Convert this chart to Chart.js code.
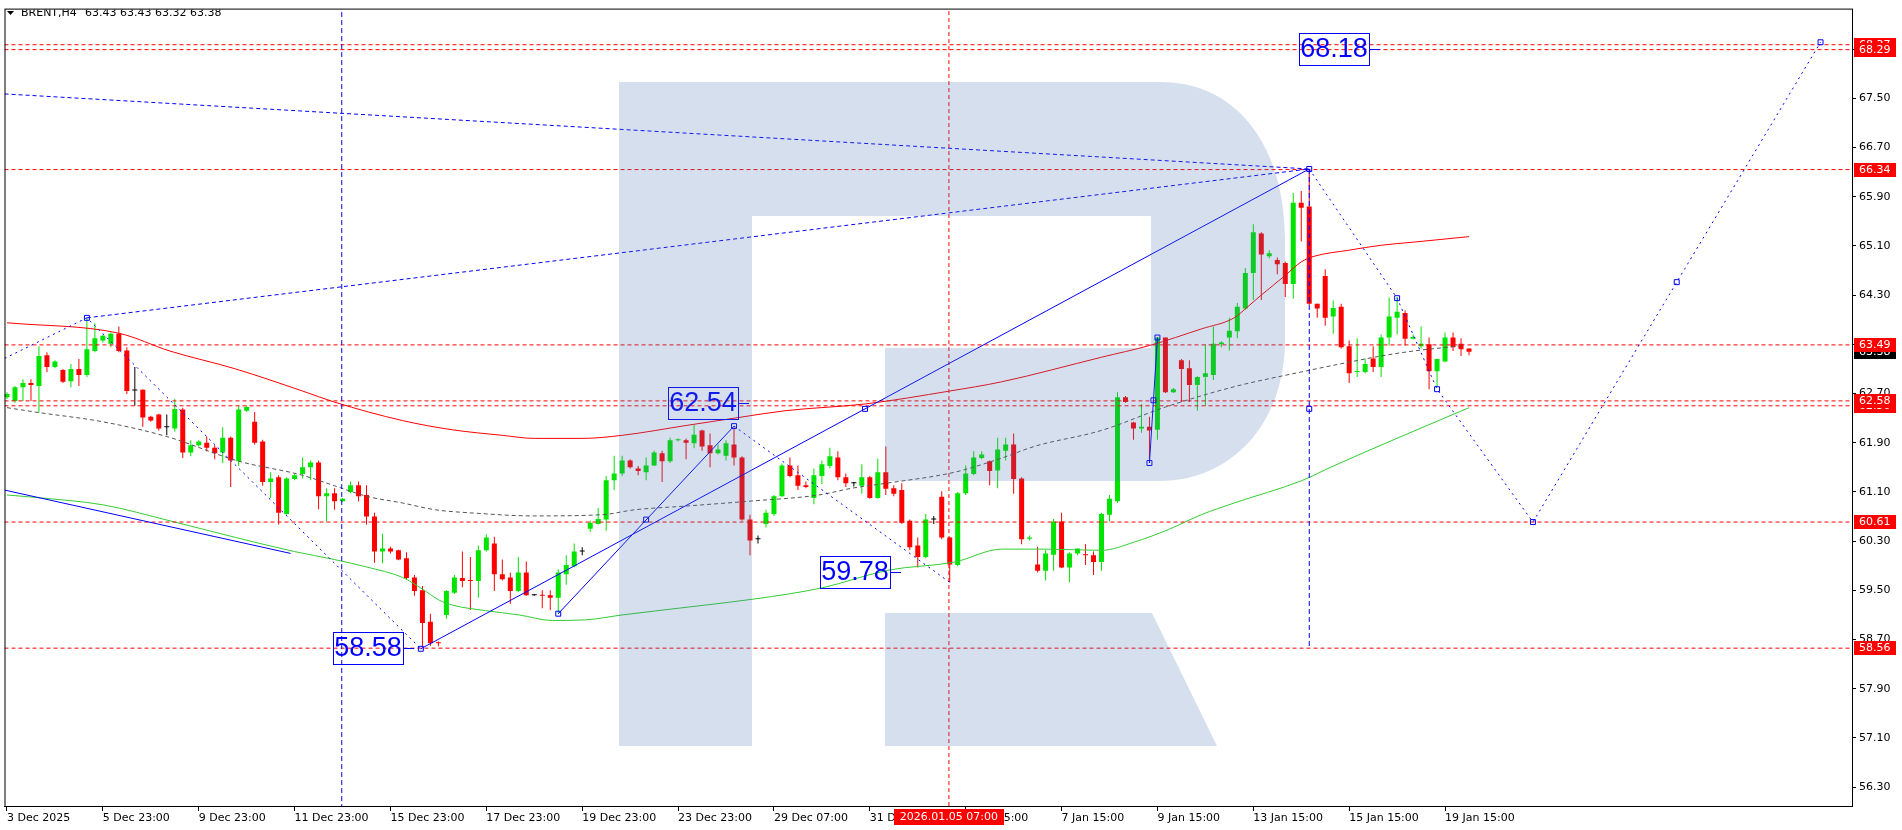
<!DOCTYPE html>
<html>
<head>
<meta charset="utf-8">
<title>BRENT,H4</title>
<script src="https://cdn.jsdelivr.net/npm/chart.js@4.4.1/dist/chart.umd.min.js"></script>
<style>
  html, body { margin: 0; padding: 0; background: #fff; }
  #chartBox { width: 1902px; height: 830px; }
</style>
</head>
<body>
<div id="chartBox"><canvas id="brentChart" width="1902" height="830"></canvas></div>
<script>
(function () {
  "use strict";

  const SYMBOL = "BRENT,H4";
  const LAST_QUOTE = "63.43 63.43 63.32 63.38";

  // H4 candles, bar index 0 = 3 Dec 2025
  const candleOpen = [
    62.64, 62.58, 62.80, 62.87, 62.82, 63.32, 63.13, 63.08, 62.90, 63.10,
    63.00, 63.39, 63.56, 63.51, 63.67, 63.40, 62.75, 62.76, 62.32, 62.36,
    62.15, 62.13, 62.44, 61.74, 61.86, 61.90, 61.82, 61.74, 61.98, 61.60,
    62.42, 62.24, 61.92, 61.26, 61.34, 60.74, 61.31, 61.39, 61.50, 61.58,
    61.03, 61.08, 60.95, 61.10, 61.21, 61.05, 60.70, 60.13, 60.18, 60.15,
    60.02, 59.71, 59.50, 58.99, 58.65, 59.10, 59.46, 59.70, 59.67, 59.65,
    60.15, 60.26, 59.76, 59.71, 59.49, 59.79, 59.42, 59.42, 59.42, 59.38,
    59.76, 59.89, 60.13, 60.50, 60.58, 60.65, 61.29, 61.40, 61.61, 61.48,
    61.42, 61.53, 61.73, 61.60, 61.94, 61.94, 61.89, 62.10, 61.86, 61.73,
    61.69, 61.87, 61.66, 60.65, 60.33, 60.58, 60.74, 61.03, 61.53, 61.37,
    61.21, 61.00, 61.36, 61.52, 61.66, 61.34, 61.24, 61.20, 61.34, 61.00,
    61.42, 61.16, 61.13, 60.63, 60.23, 60.04, 60.65, 61.02, 60.36, 59.91,
    61.08, 61.39, 61.65, 61.60, 61.45, 61.77, 61.87, 61.32, 60.34, 59.92,
    59.82, 60.08, 60.62, 59.87, 60.10, 60.08, 60.07, 59.96, 60.73, 60.95,
    62.64, 62.23, 62.13, 62.16, 62.11, 63.61, 62.72, 63.24, 63.11, 62.84,
    62.97, 63.00, 63.50, 63.61, 63.71, 64.08, 64.66, 65.30, 64.93, 64.87,
    64.82, 64.48, 65.80, 65.74, 64.16, 64.61, 63.95, 64.11, 63.47, 63.05,
    63.05, 63.27, 63.13, 63.61, 63.93, 64.01, 63.59, 63.47, 63.50, 63.06,
    63.22, 63.61, 63.51, 63.43
  ];
  const candleHigh = [
    62.72, 62.82, 62.93, 62.93, 63.47, 63.37, 63.24, 63.10, 63.18, 63.26,
    63.93, 63.84, 63.66, 63.69, 63.79, 63.45, 63.13, 62.77, 62.34, 62.37,
    62.36, 62.61, 62.47, 61.94, 61.94, 62.00, 61.86, 62.15, 62.00, 62.50,
    62.50, 62.40, 61.95, 61.42, 61.37, 61.34, 61.39, 61.66, 61.61, 61.61,
    61.16, 61.16, 61.00, 61.27, 61.27, 61.21, 60.76, 60.42, 60.21, 60.16,
    60.12, 59.75, 59.57, 59.12, 58.67, 59.50, 59.75, 60.13, 60.04, 60.23,
    60.41, 60.37, 60.00, 59.79, 60.04, 59.97, 59.44, 59.50, 59.50, 59.84,
    60.07, 60.26, 60.20, 60.63, 60.84, 61.36, 61.69, 61.69, 61.63, 61.52,
    61.66, 61.77, 61.77, 61.98, 61.97, 61.97, 62.19, 62.11, 62.05, 61.87,
    61.94, 62.15, 61.68, 60.73, 60.39, 60.81, 61.05, 61.56, 61.66, 61.53,
    61.27, 61.48, 61.61, 61.82, 61.76, 61.40, 61.26, 61.55, 61.36, 61.64,
    61.84, 61.21, 61.24, 60.65, 60.36, 60.74, 60.71, 61.11, 60.37, 61.10,
    61.53, 61.76, 61.76, 61.61, 61.98, 61.98, 62.05, 61.34, 60.39, 60.21,
    60.16, 60.66, 60.76, 60.12, 60.18, 60.25, 60.13, 60.76, 61.05, 62.72,
    62.66, 62.24, 62.53, 62.32, 63.62, 63.61, 62.79, 63.26, 63.24, 62.98,
    63.50, 63.79, 63.55, 63.93, 64.17, 64.74, 65.45, 65.32, 65.03, 64.91,
    64.84, 65.96, 65.99, 66.34, 64.16, 64.72, 64.21, 64.16, 63.56, 63.60,
    63.27, 63.47, 63.66, 64.26, 64.27, 64.05, 63.66, 63.79, 63.61, 63.27,
    63.69, 63.69, 63.60, 63.43
  ];
  const candleLow = [
    62.61, 62.55, 62.58, 62.58, 62.39, 63.05, 63.11, 62.87, 62.80, 62.82,
    62.97, 63.37, 63.53, 63.45, 63.37, 62.69, 62.50, 62.16, 62.24, 62.10,
    62.02, 62.08, 61.65, 61.68, 61.84, 61.76, 61.63, 61.57, 61.18, 61.52,
    62.40, 61.87, 61.20, 61.00, 60.57, 60.73, 61.29, 61.32, 61.29, 60.82,
    60.62, 60.81, 60.94, 61.08, 60.95, 60.57, 59.95, 59.94, 60.10, 59.99,
    59.68, 59.41, 58.57, 58.60, 58.59, 59.04, 59.44, 59.55, 59.18, 59.38,
    60.13, 59.49, 59.66, 59.28, 59.47, 59.41, 59.41, 59.21, 59.18, 59.12,
    59.59, 59.87, 60.07, 60.45, 60.57, 60.47, 61.13, 61.36, 61.48, 61.37,
    61.29, 61.52, 61.26, 61.57, 61.92, 61.63, 61.81, 61.77, 61.50, 61.71,
    61.61, 61.53, 60.63, 60.07, 60.26, 60.52, 60.71, 61.02, 61.34, 61.13,
    61.16, 60.90, 61.23, 61.48, 61.29, 61.18, 61.19, 61.07, 60.99, 60.99,
    61.05, 61.03, 60.58, 60.16, 59.87, 60.02, 60.58, 60.33, 59.63, 59.89,
    61.05, 61.37, 61.63, 61.21, 61.16, 61.61, 61.07, 60.25, 60.31, 59.79,
    59.66, 59.82, 59.86, 59.63, 60.07, 59.91, 59.75, 59.82, 60.62, 60.92,
    62.55, 61.95, 62.06, 61.57, 61.95, 62.71, 62.71, 62.56, 62.56, 62.42,
    62.50, 62.92, 63.45, 63.40, 63.60, 64.06, 64.22, 64.22, 64.90, 64.64,
    64.27, 64.24, 65.17, 64.14, 63.93, 63.80, 63.67, 63.43, 62.87, 62.97,
    63.03, 63.05, 62.97, 63.48, 63.66, 63.48, 63.58, 63.43, 62.77, 62.80,
    63.21, 63.39, 63.31, 63.32
  ];
  const candleClose = [
    62.69, 62.80, 62.87, 62.84, 63.31, 63.13, 63.22, 62.89, 63.10, 63.00,
    63.42, 63.60, 63.64, 63.67, 63.39, 62.74, 62.75, 62.31, 62.26, 62.13,
    62.15, 62.45, 61.74, 61.86, 61.92, 61.82, 61.73, 61.98, 61.61, 62.44,
    62.48, 61.90, 61.26, 61.32, 60.76, 61.32, 61.37, 61.50, 61.58, 61.03,
    61.08, 60.95, 60.99, 61.21, 61.03, 60.70, 60.13, 60.18, 60.13, 60.00,
    59.70, 59.49, 58.97, 58.64, 58.64, 59.49, 59.71, 59.65, 59.65, 60.15,
    60.36, 59.76, 59.68, 59.49, 59.79, 59.42, 59.42, 59.41, 59.38, 59.79,
    59.91, 60.13, 60.13, 60.60, 60.66, 61.29, 61.40, 61.61, 61.50, 61.44,
    61.53, 61.74, 61.60, 61.94, 61.95, 61.90, 62.03, 61.84, 61.73, 61.79,
    61.89, 61.66, 60.65, 60.31, 60.33, 60.76, 61.03, 61.53, 61.36, 61.20,
    61.18, 61.37, 61.55, 61.68, 61.34, 61.24, 61.24, 61.34, 61.00, 61.42,
    61.15, 61.07, 60.60, 60.20, 60.04, 60.65, 60.65, 60.36, 59.92, 61.08,
    61.40, 61.66, 61.71, 61.44, 61.79, 61.87, 61.31, 60.33, 60.36, 59.82,
    60.10, 60.62, 59.87, 60.10, 60.18, 60.07, 59.96, 60.74, 60.99, 62.64,
    62.56, 62.13, 62.16, 62.10, 63.61, 62.72, 62.77, 63.10, 62.84, 62.97,
    63.03, 63.51, 63.53, 63.72, 64.11, 64.66, 65.32, 64.96, 64.98, 64.80,
    64.48, 65.80, 65.72, 64.16, 64.08, 63.93, 64.09, 63.45, 63.03, 63.06,
    63.18, 63.13, 63.61, 63.95, 64.03, 63.59, 63.62, 63.51, 63.06, 63.26,
    63.61, 63.45, 63.42, 63.38
  ];

  const timeTickIndex = [0, 12, 24, 36, 48, 60, 72, 84, 96, 108, 120, 132, 144, 156, 168, 180];
  const timeTickLabels = [
    "3 Dec 2025", "5 Dec 23:00", "9 Dec 23:00", "11 Dec 23:00", "15 Dec 23:00", "17 Dec 23:00",
    "19 Dec 23:00", "23 Dec 23:00", "29 Dec 07:00", "31 Dec 15:00", "5 Jan 15:00", "7 Jan 15:00",
    "9 Jan 15:00", "13 Jan 15:00", "15 Jan 15:00", "19 Jan 15:00"
  ];
  const priceTicks = [56.30, 57.10, 57.90, 58.70, 59.50, 60.30, 61.10, 61.90, 62.70, 63.50, 64.30, 65.10, 65.90, 66.70, 67.50, 68.30];

  // moving averages, read at a few bars (index, price)
  const maRedIndex = [0, 14, 20.4, 28.6, 37, 41, 49.5, 55.75, 62, 66, 72, 77, 85, 91.6, 97.4, 107.4, 118, 124.5, 137, 143, 149.5, 153.6, 155.3, 157, 160, 162, 163.6, 168, 172, 176, 183];
  const maRed = [63.85, 63.68, 63.39, 63.10, 62.74, 62.56, 62.26, 62.11, 62.02, 61.97, 61.97, 62.02, 62.18, 62.31, 62.42, 62.53, 62.74, 62.89, 63.29, 63.48, 63.75, 63.93, 64.11, 64.30, 64.62, 64.84, 64.93, 65.03, 65.11, 65.16, 65.25];
  const maGrayIndex = [0, 4, 12, 20, 29, 37, 41, 45, 49.5, 53.6, 58, 66, 74.5, 78.6, 85, 93, 101.6, 105.75, 110, 118.6, 124.5, 128.6, 137, 145, 153.6, 162, 168, 172, 176, 182.4];
  const maGray = [62.47, 62.39, 62.24, 62.00, 61.60, 61.37, 61.20, 61.03, 60.92, 60.81, 60.76, 60.71, 60.73, 60.81, 60.87, 60.95, 61.05, 61.16, 61.24, 61.42, 61.65, 61.84, 62.10, 62.48, 62.81, 63.05, 63.21, 63.31, 63.39, 63.48];
  const maGreenIndex = [0, 4.5, 12, 20.4, 28.6, 36, 41, 45, 49.5, 52, 54.1, 55.75, 59.9, 64.1, 68.25, 72.4, 77, 85.4, 93.6, 102, 110.4, 118.6, 124.5, 130, 137, 141, 145.4, 149.5, 153.6, 162, 166, 174.5, 183];
  const maGreen = [61.05, 61.00, 60.89, 60.63, 60.36, 60.13, 60.00, 59.88, 59.71, 59.52, 59.34, 59.26, 59.17, 59.10, 59.01, 59.02, 59.10, 59.23, 59.36, 59.54, 59.83, 59.96, 60.17, 60.17, 60.15, 60.28, 60.49, 60.73, 60.92, 61.28, 61.52, 62.00, 62.47];

  // analyst drawings (index, price)
  const trendUpperIndex = [-0.3, 163];
  const trendUpper = [67.57, 66.35];
  const trendLowerIndex = [10, 163];
  const trendLower = [63.93, 66.35];
  const waveIndex = [-0.3, 10, 51.8];
  const wave = [63.27, 63.93, 58.55];
  const fallIndex = [91, 118];
  const fall = [62.17, 59.63];
  const forecastIndex = [163, 174, 179, 191, 227];
  const forecast = [66.35, 64.25, 62.77, 60.61, 68.41];
  const riseIndex = [51.8, 163];
  const rise = [58.55, 66.35];
  const legIndex = [69, 91];
  const leg = [59.12, 62.17];
  const spikeIndex = [143, 144];
  const spike = [61.57, 63.61];
  const channelIndex = [-0.3, 35.5];
  const channel = [61.13, 60.10];
  const peakDropIndex = [163, 163];
  const peakDrop = [66.35, 58.56];
  const anchorIndex = [10, 51.8, 69, 80, 91, 107.4, 143, 143.5, 144, 163, 163, 174, 179, 191, 209, 227];
  const anchor = [63.93, 58.55, 59.12, 60.65, 62.17, 62.45, 61.57, 62.59, 63.61, 66.35, 62.45, 64.25, 62.77, 60.61, 64.51, 68.41];
  const blueMarkIndex = 41.9;
  const redMarkIndex = 117.9;
  const redMarkLabel = "2026.01.05 07:00";
  const levelPrices = [68.37, 68.29, 66.34, 63.49, 62.50, 62.58, 60.61, 58.56];

  const noteText = ["58.58", "62.54", "59.78", "68.18"];
  const noteIndex = [50.9, 92.9, 111.9, 171.8];
  const notePrice = [58.57, 62.55, 59.79, 68.30];

  const X_MIN = -0.3125;
  const X_MAX = 230.9375;
  const Y_MIN = 55.994;
  const Y_MAX = 68.941;

  const GREEN = "#00e400";
  const RED = "#ff0000";
  const BLUE = "#0000ff";
  const AXIS_FONT = { family: "'DejaVu Sans'", size: 11 };

  function points(idx, vals) {
    return idx.map((x, k) => ({ x, y: vals[k] }));
  }

  function lineSet(idx, vals, color, dash, order, extra) {
    return Object.assign({
      type: "line",
      data: points(idx, vals),
      borderColor: color,
      borderWidth: 1,
      borderDash: dash,
      pointRadius: 0,
      pointHoverRadius: 0,
      fill: false,
      tension: 0,
      order
    }, extra || {});
  }

  const candleColors = candleOpen.map((o, i) => {
    if (o === candleClose[i]) return "#000000";
    return candleClose[i] > o ? GREEN : RED;
  });

  const datasets = [
    {
      type: "bar",
      data: candleOpen.map((o, i) => ({ x: i, y: [candleLow[i], candleHigh[i]] })),
      backgroundColor: candleColors,
      borderWidth: 0,
      barThickness: 1,
      maxBarThickness: 1,
      grouped: false,
      inflateAmount: 0,
      order: 11
    },
    {
      type: "bar",
      data: candleOpen.map((o, i) => ({ x: i, y: [o, candleClose[i]] })),
      backgroundColor: candleColors,
      borderWidth: 0,
      barThickness: 5,
      maxBarThickness: 5,
      grouped: false,
      inflateAmount: 0,
      minBarLength: 1,
      order: 10
    },
    lineSet(maGreenIndex, maGreen, "#32cd32", [], 8, { cubicInterpolationMode: "monotone" }),
    lineSet(maRedIndex, maRed, RED, [], 8, { cubicInterpolationMode: "monotone" }),
    lineSet(maGrayIndex, maGray, "#555555", [4, 3], 8, { cubicInterpolationMode: "monotone" }),
    lineSet([redMarkIndex, redMarkIndex], [Y_MAX + 1, Y_MIN - 1], RED, [4, 3], 6),
    lineSet([blueMarkIndex, blueMarkIndex], [Y_MAX + 1, Y_MIN - 1], BLUE, [5, 3], 4),
    lineSet(trendUpperIndex, trendUpper, BLUE, [4, 3], 4),
    lineSet(trendLowerIndex, trendLower, BLUE, [4, 3], 4),
    lineSet(waveIndex, wave, BLUE, [2, 4], 4),
    lineSet(fallIndex, fall, BLUE, [2, 4], 4),
    lineSet(forecastIndex, forecast, BLUE, [2, 4], 4),
    lineSet(peakDropIndex, peakDrop, BLUE, [5, 3], 4),
    lineSet(riseIndex, rise, BLUE, [], 4),
    lineSet(legIndex, leg, BLUE, [], 4),
    lineSet(spikeIndex, spike, BLUE, [], 4),
    lineSet(channelIndex, channel, BLUE, [], 4),
    lineSet(anchorIndex, anchor, BLUE, [], 2, {
      showLine: false,
      pointRadius: 3.5,
      pointStyle: "rect",
      pointBorderColor: BLUE,
      pointBackgroundColor: "rgba(0,0,0,0)",
      pointBorderWidth: 1
    })
  ];

  levelPrices.forEach((p) => {
    datasets.push(lineSet([X_MIN, X_MAX], [p, p], RED, [4, 3], 6));
  });

  function drawLogo(ctx) {
    ctx.fillStyle = "rgba(70, 114, 176, 0.227)";
    ctx.beginPath();
    ctx.moveTo(619, 82);
    ctx.lineTo(1160, 82);
    ctx.bezierCurveTo(1240, 82, 1285, 150, 1285, 240);
    ctx.lineTo(1285, 340);
    ctx.bezierCurveTo(1285, 425, 1230, 481, 1160, 481);
    ctx.lineTo(885, 481);
    ctx.lineTo(885, 348);
    ctx.lineTo(1151, 348);
    ctx.lineTo(1151, 216);
    ctx.lineTo(752, 216);
    ctx.lineTo(752, 746);
    ctx.lineTo(619, 746);
    ctx.closePath();
    ctx.fill();
    ctx.beginPath();
    ctx.moveTo(885, 613);
    ctx.lineTo(1152, 613);
    ctx.lineTo(1217, 746);
    ctx.lineTo(885, 746);
    ctx.closePath();
    ctx.fill();
  }

  const mt4Overlay = {
    id: "mt4Overlay",
    afterDraw(chart) {
      const { ctx, chartArea: area, scales } = chart;
      const xs = scales.x;
      const ys = scales.y;

      ctx.save();
      ctx.beginPath();
      ctx.rect(area.left, area.top, area.right - area.left, area.bottom - area.top);
      ctx.clip();

      // text notes
      ctx.font = "27px 'Liberation Sans'";
      ctx.textAlign = "center";
      ctx.textBaseline = "middle";
      ctx.lineWidth = 1;
      noteText.forEach((text, k) => {
        const px = Math.round(xs.getPixelForValue(noteIndex[k]));
        const py = Math.round(ys.getPixelForValue(notePrice[k]));
        const right = px - 11;
        ctx.strokeStyle = BLUE;
        ctx.strokeRect(right - 70 + 0.5, py - 16 + 0.5, 70, 32);
        ctx.beginPath();
        ctx.moveTo(right, py + 0.5);
        ctx.lineTo(px, py + 0.5);
        ctx.stroke();
        ctx.fillStyle = BLUE;
        ctx.fillText(text, right - 35, py + 1);
      });

      drawLogo(ctx);

      // symbol line
      ctx.fillStyle = "#000";
      ctx.beginPath();
      ctx.moveTo(7, 11);
      ctx.lineTo(14, 11);
      ctx.lineTo(10.5, 15);
      ctx.closePath();
      ctx.fill();
      ctx.font = "11px 'DejaVu Sans'";
      ctx.textAlign = "left";
      ctx.fillText(SYMBOL, 21, 13);
      ctx.fillText(LAST_QUOTE, 85, 13);
      ctx.restore();

      // frame
      ctx.save();
      ctx.strokeStyle = "#000";
      ctx.lineWidth = 1;
      ctx.strokeRect(area.left + 0.5, area.top - 0.5, area.right - area.left, area.bottom - area.top + 1);

      // price tags on the right
      ctx.font = "11px 'DejaVu Sans'";
      ctx.textAlign = "left";
      ctx.textBaseline = "middle";
      function priceTag(price, bg) {
        const py = Math.round(ys.getPixelForValue(price));
        ctx.fillStyle = bg;
        ctx.fillRect(area.right + 2, py - 7, 42, 14);
        ctx.fillStyle = "#fff";
        ctx.fillText(price.toFixed(2), area.right + 7, py);
      }
      priceTag(candleClose[candleClose.length - 1], "#000");
      levelPrices.forEach((p) => priceTag(p, RED));

      // time tag of the red vertical line
      const tx = xs.getPixelForValue(redMarkIndex);
      ctx.fillStyle = RED;
      ctx.fillRect(Math.round(tx - 55), 809, 110, 16);
      ctx.fillStyle = "#fff";
      ctx.textAlign = "center";
      ctx.fillText(redMarkLabel, tx, 817);
      ctx.restore();
    }
  };

  new Chart(document.getElementById("brentChart"), {
    type: "bar",
    data: { datasets },
    options: {
      responsive: false,
      animation: false,
      devicePixelRatio: 1,
      layout: { padding: { left: 2, top: 2, right: 0, bottom: 0 } },
      plugins: {
        legend: { display: false },
        tooltip: { enabled: false }
      },
      events: [],
      scales: {
        x: {
          type: "linear",
          position: "bottom",
          min: X_MIN,
          max: X_MAX,
          offset: false,
          bounds: "data",
          grid: { display: true, offset: false, drawOnChartArea: false, drawTicks: true, tickLength: 5, color: "#000" },
          border: { display: true, color: "#000" },
          ticks: {
            autoSkip: false,
            maxRotation: 0,
            align: "start",
            padding: 1,
            color: "#000",
            font: AXIS_FONT,
            callback: (value, idx) => timeTickLabels[idx]
          },
          afterBuildTicks: (scale) => {
            scale.ticks = timeTickIndex.map((v) => ({ value: v }));
          },
          afterFit: (scale) => {
            scale.height = 24;
          }
        },
        y: {
          type: "linear",
          position: "right",
          min: Y_MIN,
          max: Y_MAX,
          beginAtZero: false,
          bounds: "data",
          grid: { display: true, drawOnChartArea: false, drawTicks: true, tickLength: 4, color: "#000" },
          border: { display: true, color: "#000" },
          ticks: {
            autoSkip: false,
            padding: 3,
            color: "#000",
            font: AXIS_FONT,
            callback: (value) => Number(value).toFixed(2)
          },
          afterBuildTicks: (scale) => {
            scale.ticks = priceTicks.map((v) => ({ value: v }));
          },
          afterFit: (scale) => {
            scale.width = 50;
          }
        }
      }
    },
    plugins: [mt4Overlay]
  });
})();
</script>
</body>
</html>
